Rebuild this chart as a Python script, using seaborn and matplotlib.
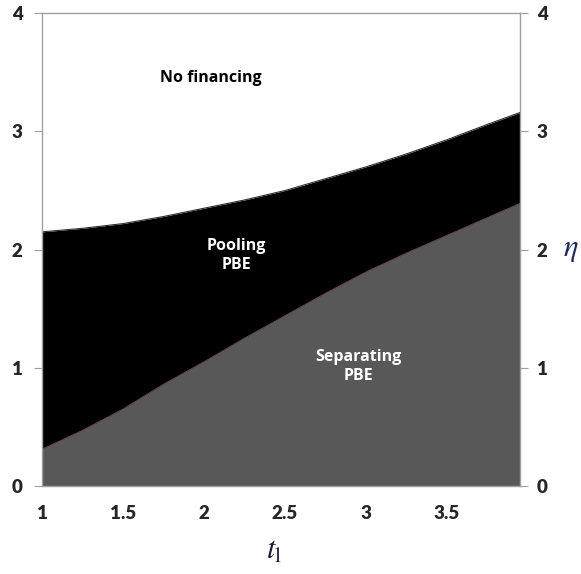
import numpy as np
import pandas as pd
import seaborn as sns
import matplotlib.pyplot as plt

# ===============================
# DATA
# ===============================
t_l = [1.0, 1.25, 1.5, 1.75, 2.0, 2.25, 2.5, 2.75, 3.0, 3.25, 3.5, 3.75, 3.95]
eta_upper = [2.15, 2.18, 2.22, 2.28, 2.35, 2.42, 2.50, 2.60, 2.70, 2.81, 2.93, 3.06, 3.16]
eta_lower = [0.31, 0.47, 0.65, 0.86, 1.05, 1.25, 1.44, 1.63, 1.81, 1.97, 2.12, 2.27, 2.39]

x_ticks = [1, 1.5, 2, 2.5, 3, 3.5]
x_ticklabels = ["1", "1.5", "2", "2.5", "3", "3.5"]
y_ticks = [0, 1, 2, 3, 4]

df = pd.DataFrame({"t": t_l, "upper": eta_upper, "lower": eta_lower})

# ===============================
# STYLE
# ===============================
sns.set_style("white")
plt.rcParams["font.family"] = ["Lato", "DejaVu Sans"]
plt.rcParams["mathtext.fontset"] = "stix"

fig = plt.figure(figsize=(5.81, 5.74), dpi=100)
ax = fig.add_axes([0.0723, 0.1533, 0.8227, 0.8237])

grey = "#585858"

# regions
ax.fill_between(df["t"], 0, df["lower"], color=grey, linewidth=0)
ax.fill_between(df["t"], df["lower"], df["upper"], color="black", linewidth=0)
sns.lineplot(data=df, x="t", y="upper", ax=ax, color="#3a2a2e", linewidth=0.8)
sns.lineplot(data=df, x="t", y="lower", ax=ax, color="#6a4a52", linewidth=0.8)

ax.set_xlim(1, 3.95)
ax.set_ylim(0, 4)
ax.set_xticks(x_ticks)
ax.set_xticklabels(x_ticklabels)
ax.set_yticks(y_ticks)
ax.set_xlabel("")
ax.set_ylabel("")

for s in ax.spines.values():
    s.set_color("#a0a0a0")
    s.set_linewidth(1.0)

ax.tick_params(axis="both", which="major", direction="out", length=6,
               color="#a0a0a0", labelsize=13.5, pad=8)
for lbl in ax.get_xticklabels() + ax.get_yticklabels():
    lbl.set_fontweight("heavy")

# right axis copy
ax2 = ax.twinx()
ax2.set_ylim(0, 4)
ax2.set_yticks(y_ticks)
ax2.tick_params(axis="y", direction="out", length=6, color="#a0a0a0",
                labelsize=13.5, pad=6)
for lbl in ax2.get_yticklabels():
    lbl.set_fontweight("heavy")
for s in ax2.spines.values():
    s.set_visible(False)

# region labels
lab_font = ["Open Sans", "DejaVu Sans"]
ax.text(2.04, 3.45, "No financing", ha="center", va="center", family=lab_font,
        fontsize=11.5, fontweight="bold", color="black")
ax.text(2.20, 1.95, "Pooling\nPBE", ha="center", va="center", family=lab_font,
        fontsize=11.5, fontweight="bold", color="white", linespacing=1.25)
ax.text(2.95, 1.01, "Separating\nPBE", ha="center", va="center", family=lab_font,
        fontsize=11.5, fontweight="bold", color="white", linespacing=1.25)

# axis titles
fig.text(0.472, 0.04, r"$t_{\mathrm{l}}$", ha="center", va="center",
         fontsize=22, color="#1a1a3a")
fig.text(0.983, 0.564, r"$\eta$", ha="center", va="center",
         fontsize=22, color="#1a2a5a")

fig.savefig("out.png", dpi=100)
